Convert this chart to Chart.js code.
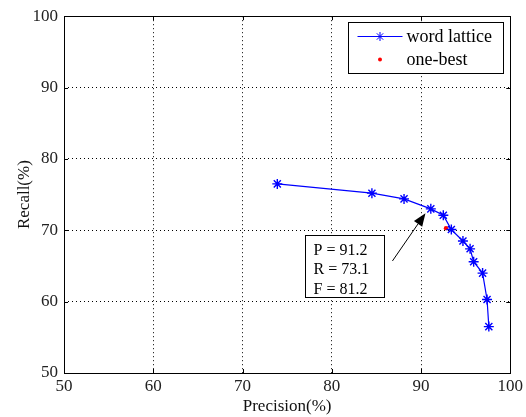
<!DOCTYPE html>
<html>
<head>
<meta charset="utf-8">
<script src="https://cdn.jsdelivr.net/npm/chart.js@4/dist/chart.umd.min.js"></script>
<style>
html,body{margin:0;padding:0;background:#fff;}
#wrap{width:526px;height:417px;position:relative;}
</style>
</head>
<body>
<div id="wrap"><canvas id="c" width="526" height="417"></canvas></div>
<script>
// ---- data ----
const latticePrecision = [73.9, 84.5, 88.1, 91.1, 92.5, 93.4, 94.7, 95.5, 95.9, 96.9, 97.4, 97.6];
const latticeRecall    = [76.5, 75.2, 74.4, 73.0, 72.1, 70.1, 68.5, 67.4, 65.6, 64.0, 60.3, 56.5];
const oneBestPrecision = [92.8];
const oneBestRecall    = [70.3];
const xTicks = [50, 60, 70, 80, 90, 100];
const yTicks = [50, 60, 70, 80, 90, 100];
const seriesNames = ['word lattice', 'one-best'];
const annotationLines = ['P = 91.2', 'R = 73.1', 'F = 81.2'];
const xTitle = 'Precision(%)';
const yTitle = 'Recall(%)';

// ---- styling / placement (not data) ----
const FONT = '"Liberation Serif", "Times New Roman", serif';
const arrowTail = {x: 86.8, y: 65.7};
const arrowHead = {x: 90.5, y: 72.4};
const boxTopLeft = {x: 77.0, y: 69.4};
const boxBottomRight = {x: 85.9, y: 60.6};

const latticeData = latticePrecision.map((p, i) => ({x: p, y: latticeRecall[i]}));
const oneBestData = oneBestPrecision.map((p, i) => ({x: p, y: oneBestRecall[i]}));

const framePlugin = {
  id: 'frame',
  afterDraw(chart) {
    const ctx = chart.ctx;
    const a = chart.chartArea;
    const xs = chart.scales.x, ys = chart.scales.y;
    ctx.save();
    ctx.setLineDash([]);
    // border box
    ctx.strokeStyle = '#000';
    ctx.lineWidth = 1;
    ctx.strokeRect(Math.round(a.left) + 0.5, Math.round(a.top) + 0.5,
                   Math.round(a.right - a.left), Math.round(a.bottom - a.top));
    // inward ticks
    const tl = 4;
    ctx.beginPath();
    xTicks.forEach(v => {
      const px = Math.round(xs.getPixelForValue(v)) + 0.5;
      ctx.moveTo(px, a.bottom); ctx.lineTo(px, a.bottom - tl);
      ctx.moveTo(px, a.top); ctx.lineTo(px, a.top + tl);
    });
    yTicks.forEach(v => {
      const py = Math.round(ys.getPixelForValue(v)) + 0.5;
      ctx.moveTo(a.left, py); ctx.lineTo(a.left + tl, py);
      ctx.moveTo(a.right, py); ctx.lineTo(a.right - tl, py);
    });
    ctx.stroke();

    // annotation box
    const bx1 = Math.round(xs.getPixelForValue(boxTopLeft.x)) + 0.5;
    const by1 = Math.round(ys.getPixelForValue(boxTopLeft.y)) + 0.5;
    const bx2 = Math.round(xs.getPixelForValue(boxBottomRight.x)) + 0.5;
    const by2 = Math.round(ys.getPixelForValue(boxBottomRight.y)) + 0.5;
    ctx.fillStyle = '#fff';
    ctx.fillRect(bx1, by1, bx2 - bx1, by2 - by1);
    ctx.strokeStyle = '#000';
    ctx.strokeRect(bx1, by1, bx2 - bx1, by2 - by1);
    ctx.fillStyle = '#000';
    ctx.font = '16px ' + FONT;
    ctx.textBaseline = 'middle';
    ctx.textAlign = 'left';
    annotationLines.forEach((t, i) => {
      ctx.fillText(t, bx1 + 8, by1 + 15 + i * 19.5);
    });

    // arrow
    const tx = xs.getPixelForValue(arrowTail.x), ty = ys.getPixelForValue(arrowTail.y);
    const hx = xs.getPixelForValue(arrowHead.x), hy = ys.getPixelForValue(arrowHead.y);
    const ang = Math.atan2(hy - ty, hx - tx);
    const hl = 13, hw = 5;
    const bxp = hx - hl * Math.cos(ang), byp = hy - hl * Math.sin(ang);
    ctx.strokeStyle = '#000';
    ctx.lineWidth = 1;
    ctx.beginPath();
    ctx.moveTo(tx, ty); ctx.lineTo(bxp, byp); ctx.stroke();
    ctx.beginPath();
    ctx.moveTo(hx, hy);
    ctx.lineTo(bxp + hw * Math.sin(ang), byp - hw * Math.cos(ang));
    ctx.lineTo(bxp - hw * Math.sin(ang), byp + hw * Math.cos(ang));
    ctx.closePath();
    ctx.fillStyle = '#000';
    ctx.fill();

    // legend
    const lx = 348.5, ly = 22.5, lw = 155, lh = 51;
    ctx.fillStyle = '#fff';
    ctx.fillRect(lx, ly, lw, lh);
    ctx.strokeStyle = '#000';
    ctx.strokeRect(lx, ly, lw, lh);
    const r1 = ly + 14, r2 = ly + 37;
    ctx.strokeStyle = '#0000ff';
    ctx.beginPath();
    ctx.moveTo(lx + 9, r1); ctx.lineTo(lx + 54, r1); ctx.stroke();
    // star marker
    const cx = lx + 31.5, s = 4.5;
    ctx.beginPath();
    ctx.moveTo(cx - s, r1); ctx.lineTo(cx + s, r1);
    ctx.moveTo(cx, r1 - s); ctx.lineTo(cx, r1 + s);
    const d = s * 0.7071;
    ctx.moveTo(cx - d, r1 - d); ctx.lineTo(cx + d, r1 + d);
    ctx.moveTo(cx - d, r1 + d); ctx.lineTo(cx + d, r1 - d);
    ctx.stroke();
    ctx.fillStyle = '#ff0000';
    ctx.beginPath();
    ctx.arc(cx, r2, 2, 0, Math.PI * 2);
    ctx.fill();
    ctx.fillStyle = '#000';
    ctx.font = '18px ' + FONT;
    ctx.textBaseline = 'middle';
    ctx.fillText(seriesNames[0], lx + 58, r1 + 1);
    ctx.fillText(seriesNames[1], lx + 58, r2 + 1);
    ctx.restore();
  }
};

const gridColor = (ctx) => {
  const v = ctx.tick ? ctx.tick.value : null;
  return (v === 50 || v === 100) ? 'rgba(0,0,0,0)' : '#000';
};

new Chart(document.getElementById('c'), {
  type: 'scatter',
  data: {
    datasets: [
      {
        label: seriesNames[0],
        data: latticeData,
        showLine: true,
        borderColor: '#0000ff',
        backgroundColor: '#0000ff',
        borderWidth: 1.2,
        pointStyle: 'star',
        pointRadius: 5,
        pointBorderWidth: 1.4,
        pointBorderColor: '#0000ff',
        tension: 0
      },
      {
        label: seriesNames[1],
        data: oneBestData,
        showLine: false,
        pointStyle: 'circle',
        pointRadius: 2.2,
        pointBorderWidth: 0,
        backgroundColor: '#ff0000',
        borderColor: '#ff0000'
      }
    ]
  },
  options: {
    responsive: false,
    animation: false,
    devicePixelRatio: 1,
    layout: { padding: { left: 0, right: 15, top: 14, bottom: 0 } },
    plugins: { legend: { display: false }, tooltip: { enabled: false } },
    scales: {
      x: {
        type: 'linear',
        min: 50, max: 100,
        afterBuildTicks: (sc) => { sc.ticks = xTicks.map(v => ({value: v})); },
        afterFit: (sc) => { sc.height = 44; },
        border: { display: false, dash: [1, 3] },
        grid: { color: gridColor, lineWidth: 1, drawTicks: false },
        ticks: { color: '#222', font: { family: FONT, size: 17 }, padding: 3, maxRotation: 0 },
        title: { display: true, text: xTitle, color: '#111', font: { family: FONT, size: 17 }, padding: { top: 0, bottom: 0 } }
      },
      y: {
        type: 'linear',
        min: 50, max: 100,
        afterBuildTicks: (sc) => { sc.ticks = yTicks.map(v => ({value: v})); },
        afterFit: (sc) => { sc.width = 64; },
        border: { display: false, dash: [1, 3] },
        grid: { color: gridColor, lineWidth: 1, drawTicks: false },
        ticks: { color: '#222', font: { family: FONT, size: 17 }, padding: 6 },
        title: { display: true, text: yTitle, color: '#111', font: { family: FONT, size: 17 }, padding: { top: 14, bottom: 4 } }
      }
    }
  },
  plugins: [framePlugin]
});
</script>
</body>
</html>
